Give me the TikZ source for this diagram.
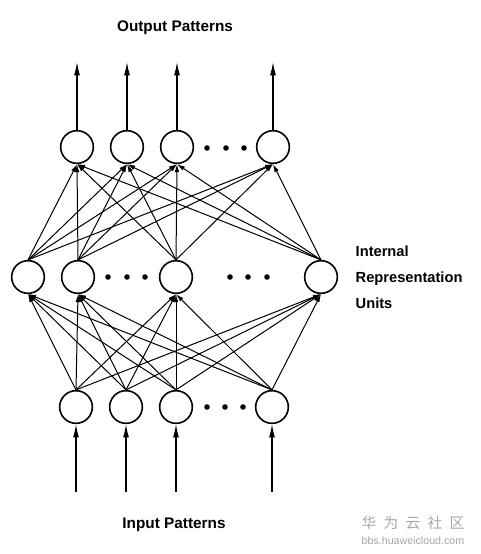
\documentclass[tikz,border=0pt]{standalone}
\usepackage{fontspec}
\setmainfont{Liberation Sans}
\newfontfamily\cjkfont{Noto Sans CJK SC}
\usetikzlibrary{arrows.meta}

\begin{document}
\begin{tikzpicture}[x=0.75pt, y=-0.75pt,
    unit/.style={draw, circle, line width=1.2pt, minimum size=24.5pt, inner sep=0pt},
    link/.style={-{Latex[length=6pt, width=3.5pt]}, line width=0.75pt},
    feed/.style={-{Latex[length=10pt, width=4.5pt]}, line width=0.9pt},
    title/.style={font=\bfseries\fontsize{11.5}{14}\selectfont}]
  \useasboundingbox (0, 0) rectangle (481, 554);

  % output layer
  \node[unit] (out1) at (77, 147) {};
  \node[unit] (out2) at (127, 147) {};
  \node[unit] (out3) at (177, 147) {};
  \node[unit] (out4) at (273, 147) {};

  % hidden layer
  \node[unit] (hid1) at (28, 277) {};
  \node[unit] (hid2) at (78, 277) {};
  \node[unit] (hid3) at (176, 277) {};
  \node[unit] (hid4) at (321, 277) {};

  % input layer
  \node[unit] (in1) at (76, 407) {};
  \node[unit] (in2) at (126, 407) {};
  \node[unit] (in3) at (176, 407) {};
  \node[unit] (in4) at (272, 407) {};

  % dots
  \foreach \x in {207, 226, 244} \fill (\x, 148) circle (2.8);
  \foreach \x in {108, 127, 145, 230, 248, 267} \fill (\x, 277) circle (2.8);
  \foreach \x in {207, 225, 243} \fill (\x, 407) circle (2.8);

  % connections
  \foreach \h in {hid1, hid2, hid3, hid4}
    \foreach \o in {out1, out2, out3, out4}
      \draw[link] (\h.north) -- (\o.south);
  \foreach \i in {in1, in2, in3, in4}
    \foreach \h in {hid1, hid2, hid3, hid4}
      \draw[link] (\i.north) -- (\h.south);

  % outputs and inputs
  \coordinate (top1) at (77, 62);
  \coordinate (top2) at (127, 62);
  \coordinate (top3) at (177, 62);
  \coordinate (top4) at (273, 62);
  \coordinate (bot1) at (76, 492);
  \coordinate (bot2) at (126, 492);
  \coordinate (bot3) at (176, 492);
  \coordinate (bot4) at (272, 492);
  \draw[feed] (out1) -- (top1);
  \draw[feed] (out2) -- (top2);
  \draw[feed] (out3) -- (top3);
  \draw[feed] (out4) -- (top4);
  \draw[feed] (bot1) -- (in1);
  \draw[feed] (bot2) -- (in2);
  \draw[feed] (bot3) -- (in3);
  \draw[feed] (bot4) -- (in4);

  % labels
  \node[title] (outlabel) at (175, 28) {Output Patterns};
  \node[title] (inlabel) at (174, 525) {Input Patterns};
  \node[title, anchor=west, align=left, font=\bfseries\fontsize{11}{19.5}\selectfont]
    (hidlabel) at (351, 277) {Internal\\Representation\\Units};

  % watermark
  \node[text=gray!70, font=\cjkfont\fontsize{11}{13}\selectfont] (mark) at (413, 523)
    {华\hspace{0.5em}为\hspace{0.5em}云\hspace{0.5em}社\hspace{0.5em}区};
  \node[text=gray!70, font=\fontsize{8}{10}\selectfont] (site) at (413, 541) {bbs.huaweicloud.com};
\end{tikzpicture}
\end{document}
